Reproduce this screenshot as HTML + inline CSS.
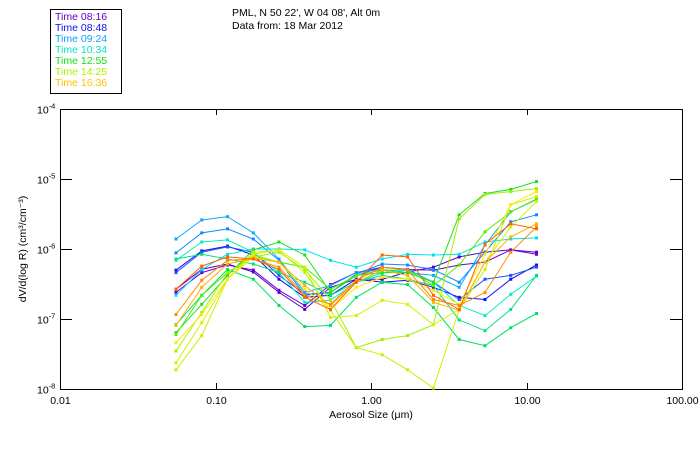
<!DOCTYPE html>
<html><head><meta charset="utf-8">
<style>
html,body{margin:0;padding:0;background:#fff;}
body{width:700px;height:450px;overflow:hidden;font-family:"Liberation Sans",sans-serif;}
svg text{font-family:"Liberation Sans",sans-serif;}
</style></head>
<body>
<svg id="chart" width="700" height="450" viewBox="0 0 700 450" xmlns="http://www.w3.org/2000/svg">
  <g>
    <rect x="50.5" y="9.5" width="71" height="84" fill="#fff" stroke="#000" stroke-width="1"/>
    <g id="legend-items" font-size="10.5"></g>
  </g>
  <text x="232" y="16" font-size="10.5" fill="#000">PML, N 50 22', W 04 08', Alt 0m</text>
  <text x="232" y="29" font-size="10.5" fill="#000">Data from: 18 Mar 2012</text>
  <g id="axes"></g>
  <g id="series"></g>
  <text x="371" y="418" font-size="10.5" text-anchor="middle" fill="#000">Aerosol Size (μm)</text>
  <text transform="translate(26,249) rotate(-90)" font-size="10.5" text-anchor="middle" fill="#000">dV/d(log R) (cm³/cm⁻³)</text>
</svg>
<script>
const sizes = [0.0557,0.0816,0.1195,0.175,0.256,0.375,0.549,0.804,1.18,1.72,2.52,3.69,5.41,7.92,11.6];
const xTicks = [0.01,0.1,1,10,100];
const xTickLabels = ["0.01","0.10","1.00","10.00","100.00"];
const yTicks = [1e-8,1e-7,1e-6,1e-5,1e-4];
const yTickExps = ["-8","-7","-6","-5","-4"];
const legendTimes = ["Time 08:16","Time 08:48","Time 09:24","Time 10:34","Time 12:55","Time 14:25","Time 16:36"];
const legendColors = ["#6000c0","#1010f0","#10a0ff","#00e8c0","#10e010","#a8f000","#ffc000"];

const sA = [2.66e-7,5.15e-7,6.1e-7,4.7e-7,2.4e-7,1.37e-7,2.84e-7,3.7e-7,3.7e-7,4.7e-7,5.5e-7,7.7e-7,9.0e-7,9.7e-7,9.0e-7];
const sS = [2.4e-7,4.6e-7,5.9e-7,5.0e-7,2.57e-7,1.56e-7,3.1e-7,4.6e-7,5.5e-7,5.1e-7,5.0e-7,5.9e-7,6.5e-7,9.7e-7,8.4e-7];
const sB = [4.98e-7,9.4e-7,1.1e-6,8.2e-7,3.7e-7,2.04e-7,2.18e-7,3.7e-7,3.35e-7,3.58e-7,2.84e-7,2.04e-7,1.9e-7,3.7e-7,5.9e-7];
const sR = [4.6e-7,9.0e-7,1.07e-6,9.0e-7,4.2e-7,2.25e-7,2.4e-7,4.2e-7,5.5e-7,5.1e-7,3.35e-7,1.9e-7,3.7e-7,4.2e-7,5.5e-7];
const sC = [1.39e-6,2.6e-6,2.9e-6,1.7e-6,7.2e-7,2.4e-7,3.0e-7,4.6e-7,5.1e-7,4.6e-7,4.2e-7,2.84e-7,1.14e-6,3.4e-6,5.1e-6];
const sD = [8.8e-7,1.7e-6,1.94e-6,1.39e-6,6.9e-7,2.18e-7,2.4e-7,4.4e-7,6.1e-7,5.9e-7,5.1e-7,3.35e-7,9.0e-7,2.45e-6,3.08e-6];
const sE = [2.18e-7,5.1e-7,8.4e-7,1.0e-6,1.0e-6,9.7e-7,6.9e-7,5.5e-7,7.2e-7,8.4e-7,8.2e-7,8.4e-7,1.26e-6,1.39e-6,1.44e-6];
const sF = [6.9e-7,1.26e-6,1.35e-6,9.0e-7,4.6e-7,1.73e-7,1.85e-7,3.35e-7,4.6e-7,5.0e-7,3.35e-7,1.56e-7,1.12e-7,2.25e-7,4.1e-7];
const sG = [7.2e-7,8.4e-7,7.2e-7,6.1e-7,4.6e-7,3.35e-7,2.18e-7,3.35e-7,4.2e-7,3.7e-7,3.0e-7,9.7e-8,6.8e-8,1.37e-7,4.2e-7];
const sH = [6.4e-8,1.62e-7,4.2e-7,9.7e-7,1.26e-6,8.2e-7,2.4e-7,4.2e-7,4.6e-7,4.6e-7,3.35e-7,3.08e-6,6.2e-6,7.1e-6,9.2e-6];
const sI = [8.3e-8,2.18e-7,5.1e-7,3.7e-7,1.56e-7,7.8e-8,8.1e-8,2.04e-7,3.35e-7,3.1e-7,1.46e-7,5.1e-8,4.15e-8,7.5e-8,1.2e-7];
const sQ = [6.0e-8,2.18e-7,4.6e-7,8.2e-7,6.5e-7,5.5e-7,2.66e-7,4.2e-7,5.0e-7,5.0e-7,3.0e-7,5.9e-7,1.76e-6,3.4e-6,5.2e-6];
const sP = [3.5e-8,1.24e-7,4.6e-7,7.7e-7,9.0e-7,5.1e-7,1.9e-7,3.9e-8,5.1e-8,5.8e-8,8.3e-8,2.7e-6,6.0e-6,6.6e-6,7.3e-6];
const sO = [1.88e-8,5.8e-8,3.7e-7,9.0e-7,9.4e-7,4.6e-7,1.33e-7,3.9e-8,3.08e-8,1.88e-8,1.03e-8,1.37e-7,5.1e-7,4.3e-6,5.6e-6];
const sN = [2.37e-8,8.9e-8,3.7e-7,8.4e-7,9.7e-7,5.5e-7,1.05e-7,1.12e-7,1.85e-7,1.62e-7,8.3e-8,1.37e-7,6.5e-7,2.07e-6,4.75e-6];
const sM = [4.6e-8,1.16e-7,3.7e-7,7.7e-7,6.5e-7,2.66e-7,1.37e-7,2.84e-7,3.95e-7,3.7e-7,2.57e-7,1.62e-7,8.4e-7,4.3e-6,6.6e-6];
const sL = [8.1e-8,2.84e-7,6.1e-7,7.4e-7,6.5e-7,3.0e-7,1.56e-7,3.35e-7,5.0e-7,4.2e-7,1.73e-7,1.33e-7,6.5e-7,1.49e-6,2.29e-6];
const sK = [1.16e-7,3.58e-7,6.9e-7,7.2e-7,5.5e-7,2.18e-7,1.62e-7,3.58e-7,5.5e-7,5.0e-7,1.9e-7,1.56e-7,2.4e-7,9.0e-7,2.07e-6];
const sJ = [2.66e-7,5.7e-7,7.7e-7,7.2e-7,5.1e-7,2.04e-7,1.37e-7,3.35e-7,8.2e-7,7.7e-7,2.18e-7,1.37e-7,1.18e-6,2.29e-6,1.94e-6];

const seriesList = [sA,sS,sB,sR,sC,sD,sE,sF,sG,sH,sI,sQ,sP,sO,sN,sM,sL,sK,sJ];
const seriesColors = ["#5800c0","#6a00d8","#1010f0","#2050ff","#10a8ff","#1088ff","#00e0f0","#00f0c0","#00e080","#20e020","#00e060","#50f000","#a0f000","#c8f000","#d8f000","#ffe800","#ffb000","#ff8c00","#ff6400"];

const X0=60, X1=682, Y0=389, Y1=109;
const xMinL=-2, xMaxL=2, yMinL=-8, yMaxL=-4;
function xScale(v){return X0+(Math.log10(v)-xMinL)/(xMaxL-xMinL)*(X1-X0);}
function yScale(v){return Y0-(Math.log10(v)-yMinL)/(yMaxL-yMinL)*(Y0-Y1);}
const NS="http://www.w3.org/2000/svg";
function mk(tag,attrs,parent){const e=document.createElementNS(NS,tag);for(const k in attrs)e.setAttribute(k,attrs[k]);parent.appendChild(e);return e;}

const axes=document.getElementById('axes');
const frame=mk('rect',{x:X0+0.5,y:Y1+0.5,width:X1-X0,height:Y0-Y1,fill:'none',stroke:'#000','stroke-width':1},axes);


xTicks.forEach((t,i)=>{
  const x=Math.round(xScale(t))+0.5;
  const tb=mk('line',{x1:x,x2:x,y1:Y0,y2:Y0-6,stroke:'#000'},axes);
  
  
  const tt=mk('line',{x1:x,x2:x,y1:Y1,y2:Y1+6,stroke:'#000'},axes);
  
  
  const lb=mk('text',{x:x,y:404,'font-size':10.5,'text-anchor':'middle',fill:'#000'},axes);
  lb.textContent=xTickLabels[i];
  
  
});
yTicks.forEach((t,i)=>{
  const y=Math.round(yScale(t))+0.5;
  const tl=mk('line',{x1:X0,x2:X0+12,y1:y,y2:y,stroke:'#000'},axes);
  
  
  const tr=mk('line',{x1:X1,x2:X1-12,y1:y,y2:y,stroke:'#000'},axes);
  
  
  const lb=mk('text',{x:37,y:y+4,'font-size':10.5,fill:'#000'},axes);
  
  
  const b=document.createElementNS(NS,'tspan');b.textContent='10';lb.appendChild(b);
  const s=document.createElementNS(NS,'tspan');s.setAttribute('dy','-5');s.setAttribute('font-size','7.5');s.textContent=yTickExps[i];lb.appendChild(s);
});

const sg=document.getElementById('series');
seriesList.forEach((vals,si)=>{
  const g=mk('g',{},sg);
  
  
  const pts=vals.map((v,i)=>xScale(sizes[i]).toFixed(1)+','+yScale(v).toFixed(1)).join(' ');
  const pl=mk('polyline',{points:pts,fill:'none',stroke:seriesColors[si],'stroke-width':1},g);
  
  
  vals.forEach((v,i)=>{
    const r=mk('rect',{x:xScale(sizes[i])-1.5,y:yScale(v)-1.5,width:3,height:3,fill:seriesColors[si]},g);
    
    
  });
});

const lg=document.getElementById('legend-items');
legendTimes.forEach((t,i)=>{
  const e=mk('text',{x:55,y:20+i*11,fill:legendColors[i]},lg);
  e.textContent=t;
  
  
});
</script>
</body></html>
